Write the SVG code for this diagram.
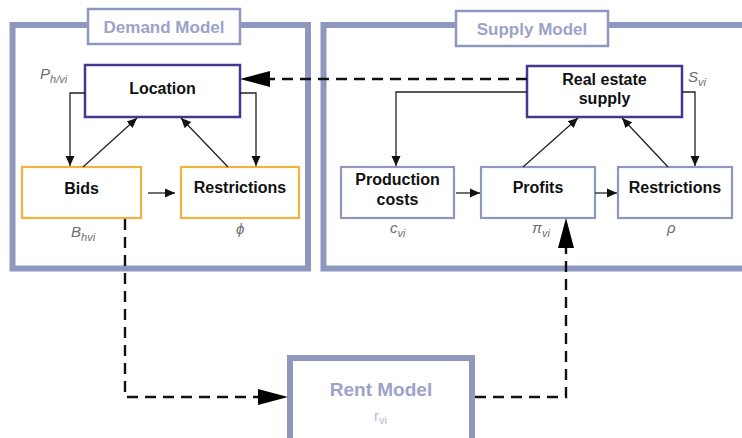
<svg xmlns="http://www.w3.org/2000/svg" width="742" height="438" viewBox="0 0 742 438">
  <style>
    .frame { fill: none; stroke: #8e98bf; stroke-width: 6; }
    .tag { fill: #ffffff; stroke: #8e98bf; stroke-width: 2.5; }
    .tagtxt { font-family: "Liberation Sans", Arial, sans-serif; font-weight: bold; font-size: 17px; fill: #9ca3c9; text-anchor: middle; }
    .key { fill: #ffffff; stroke: #45378f; stroke-width: 2.5; }
    .dem { fill: #ffffff; stroke: #f2b240; stroke-width: 2.2; }
    .sup { fill: #ffffff; stroke: #8e98bf; stroke-width: 2.2; }
    .lbl { font-family: "Liberation Sans", Arial, sans-serif; font-weight: bold; font-size: 16px; fill: #111111; text-anchor: middle; }
    .var { font-family: "Liberation Sans", Arial, sans-serif; font-style: italic; font-size: 15px; fill: #6e6e6e; }
    .sub { font-size: 11px; }
    .thin { fill: none; stroke: #222222; stroke-width: 1.3; }
    .dash { fill: none; stroke: #111111; stroke-width: 2.4; stroke-dasharray: 11 7; }
    .head { fill: #000000; }
  </style>
  <defs>
    <marker id="tip" markerWidth="11" markerHeight="11" refX="10" refY="5.5" orient="auto" markerUnits="userSpaceOnUse">
      <path d="M0,1 L10,5.5 L0,10 Z" fill="#111111"/>
    </marker>
  </defs>

  <!-- model frames -->
  <g id="demand-model">
    <rect class="frame" x="12.5" y="25" width="295.5" height="243.5"/>
    <rect class="tag" x="88" y="9" width="152" height="35"/>
    <text class="tagtxt" x="164" y="33">Demand Model</text>
  </g>
  <g id="supply-model">
    <rect class="frame" x="323.5" y="25" width="440" height="243.5"/>
    <rect class="tag" x="456" y="11" width="152" height="35"/>
    <text class="tagtxt" x="532" y="35">Supply Model</text>
  </g>
  <g id="rent-model">
    <rect class="frame" x="290" y="358" width="182" height="100"/>
    <text class="tagtxt" x="381" y="396" style="font-size:19px">Rent Model</text>
    <text x="374" y="421" font-family="Liberation Sans, Arial, sans-serif" font-size="15" fill="#b4b9d6">r<tspan font-size="11" dy="3">vi</tspan></text>
  </g>

  <!-- demand nodes -->
  <g id="location">
    <rect class="key" x="85" y="65" width="155" height="52"/>
    <text class="lbl" x="162.5" y="94">Location</text>
    <text class="var" x="40" y="79">P<tspan class="sub" dy="4">h/vi</tspan></text>
  </g>
  <g id="bids">
    <rect class="dem" x="22" y="167" width="119" height="51"/>
    <text class="lbl" x="81.5" y="194">Bids</text>
    <text class="var" x="71" y="237">B<tspan class="sub" dy="4">hvi</tspan></text>
  </g>
  <g id="demand-restrictions">
    <rect class="dem" x="181" y="167" width="118" height="51"/>
    <text class="lbl" x="240" y="193">Restrictions</text>
    <text class="var" x="236" y="234">ϕ</text>
  </g>

  <!-- supply nodes -->
  <g id="real-estate-supply">
    <rect class="key" x="527" y="66" width="155" height="51"/>
    <text class="lbl" x="604.5" y="85">Real estate</text>
    <text class="lbl" x="604.5" y="104">supply</text>
    <text class="var" x="688" y="82">S<tspan class="sub" dy="4">vi</tspan></text>
  </g>
  <g id="production-costs">
    <rect class="sup" x="341" y="167" width="113" height="51"/>
    <text class="lbl" x="397.5" y="185">Production</text>
    <text class="lbl" x="397.5" y="205">costs</text>
    <text class="var" x="390" y="233">c<tspan class="sub" dy="4">vi</tspan></text>
  </g>
  <g id="profits">
    <rect class="sup" x="481" y="167" width="114" height="51"/>
    <text class="lbl" x="538" y="193">Profits</text>
    <text class="var" x="532" y="233">π<tspan class="sub" dy="4">vi</tspan></text>
  </g>
  <g id="supply-restrictions">
    <rect class="sup" x="618" y="167" width="114" height="51"/>
    <text class="lbl" x="675" y="193">Restrictions</text>
    <text class="var" x="667" y="233">ρ</text>
  </g>

  <!-- connectors -->
  <g id="connectors">
    <!-- demand loop -->
    <polyline class="thin" points="85,93 70,93 70,166" marker-end="url(#tip)"/>
    <polyline class="thin" points="240,93 256,93 256,166" marker-end="url(#tip)"/>
    <line class="thin" x1="83" y1="167" x2="137" y2="118" marker-end="url(#tip)"/>
    <line class="thin" x1="228" y1="167" x2="181" y2="118" marker-end="url(#tip)"/>
    <line class="thin" x1="148" y1="193" x2="175" y2="193" marker-end="url(#tip)"/>

    <!-- supply loop -->
    <polyline class="thin" points="527,92 396,92 396,166" marker-end="url(#tip)"/>
    <polyline class="thin" points="682,92 695,92 695,166" marker-end="url(#tip)"/>
    <line class="thin" x1="523" y1="167" x2="578" y2="118" marker-end="url(#tip)"/>
    <line class="thin" x1="668" y1="167" x2="622" y2="118" marker-end="url(#tip)"/>
    <line class="thin" x1="456" y1="193" x2="480" y2="193" marker-end="url(#tip)"/>
    <line class="thin" x1="595" y1="193" x2="617" y2="193" marker-end="url(#tip)"/>

    <!-- supply feeds location -->
    <line class="dash" x1="527" y1="79" x2="266" y2="79"/>
    <path class="head" d="M240,79 L270,71 L270,87 Z"/>

    <!-- bids to rent model -->
    <polyline class="dash" points="125,219 125,397 262,397"/>
    <path class="head" d="M288,397 L258,389 L258,405 Z"/>

    <!-- rent model to profits -->
    <polyline class="dash" points="475,397 566,397 566,245"/>
    <path class="head" d="M566,218 L558,248 L574,248 Z"/>
  </g>
</svg>
